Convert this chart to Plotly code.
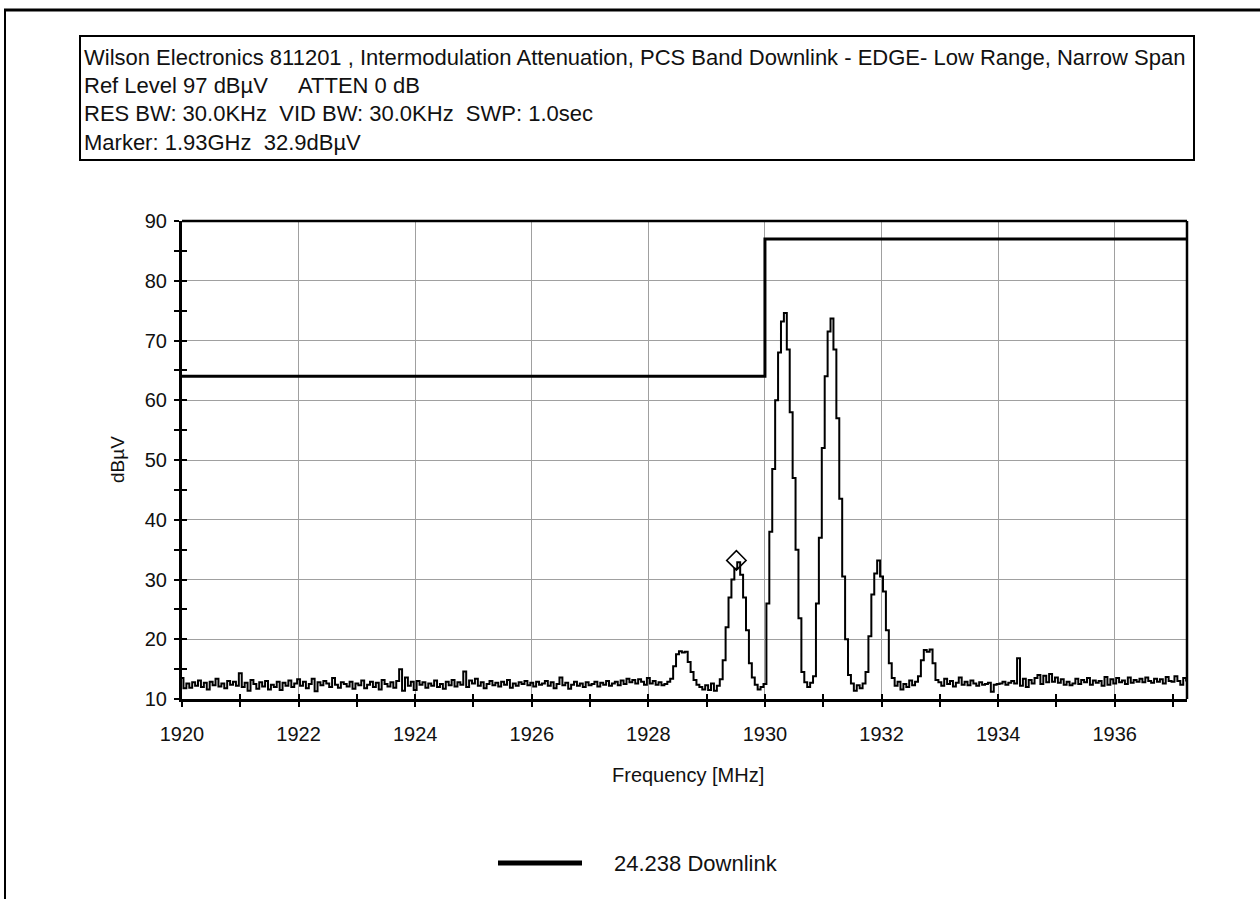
import plotly.graph_objects as go

# ---------------- data ----------------
FREQ_START = 1920.0      # MHz, first sweep point
FREQ_STEP = 0.05         # MHz between sweep points

level_dbuv = [
    # 1920
    13.5, 11.8, 12.6, 11.9, 12.8, 12.2, 13.1, 12.0, 12.7, 11.6, 12.9, 12.3, 13.4, 12.1, 12.6, 11.8, 13.0, 12.4, 12.9, 12.2,
    # 1921
    14.3, 12.0, 12.7, 11.4, 13.2, 12.5, 11.7, 12.8, 12.1, 13.0, 11.6, 12.4, 12.0, 12.9, 11.5, 12.7, 12.2, 13.1, 12.0, 12.6,
    # 1922
    13.3, 12.2, 12.9, 11.8, 12.5, 13.4, 11.3, 12.8, 12.3, 13.0, 12.6, 12.0, 13.5, 12.4, 11.9, 12.8, 12.5, 12.1, 12.9, 11.7,
    # 1923
    12.6, 12.3, 13.1, 11.8, 12.4, 12.9, 12.0, 12.7, 11.6, 13.2, 12.5, 12.1, 12.8, 11.9, 13.0, 15.0, 11.4, 13.6, 12.2, 12.9,
    # 1924
    11.5, 13.0, 12.4, 12.8, 11.9, 12.6, 12.2, 13.1, 12.0, 12.5, 11.7, 12.9, 12.3, 13.2, 12.1, 12.8, 12.4, 14.6, 12.0, 13.1,
    # 1925
    12.6, 13.4, 12.2, 12.8, 11.8, 12.5, 13.0, 12.3, 12.7, 12.1, 12.9, 12.4, 13.2, 11.9, 12.6, 12.2, 12.8, 12.5, 13.0, 12.3,
    # 1926
    12.7, 12.1, 12.9, 12.4, 12.6, 13.0, 12.2, 12.8, 11.8, 12.5, 13.6, 12.3, 12.7, 11.7, 12.4, 12.9, 12.2, 12.6, 12.0, 12.8,
    # 1927
    12.3, 12.5, 12.9, 12.1, 12.7, 12.4, 13.0, 12.2, 12.6, 12.9, 12.3, 13.1, 12.5, 13.4, 12.8, 13.2, 12.6, 13.3, 12.9, 12.4,
    # 1928
    13.5, 12.6, 13.0, 12.4, 12.8, 12.3, 12.5, 12.9, 13.4, 15.5, 17.5, 18.0, 17.8, 17.9, 16.2, 14.5, 13.2, 12.4, 12.0, 11.6,
    # 1929
    12.3, 11.5, 12.6, 11.4, 12.2, 13.3, 16.5, 22.0, 27.0, 30.0, 31.8, 32.9, 30.8, 27.0, 21.5, 16.0, 13.6, 12.4, 11.6, 12.0,
    # 1930
    12.5, 26.0, 38.0, 48.5, 60.0, 68.0, 73.2, 74.6, 68.5, 58.0, 47.0, 35.0, 23.5, 14.5, 12.8, 12.0, 12.7, 13.8, 26.0, 37.0,
    # 1931
    52.0, 64.0, 71.5, 73.7, 68.5, 57.0, 43.5, 30.5, 20.0, 14.0, 12.6, 11.4, 12.3, 11.8, 12.6, 14.5, 20.5, 27.5, 31.0, 33.2,
    # 1932
    30.5, 28.0, 21.5, 16.0, 13.5, 12.2, 12.9, 11.6, 12.5, 12.0, 13.1, 12.3, 12.9, 13.8, 16.5, 18.2, 17.9, 18.3, 16.0, 13.2,
    # 1933
    12.8, 12.2, 13.4, 12.5, 13.0, 12.1, 12.7, 13.6, 12.4, 12.9, 12.3, 13.1, 12.6, 12.2, 12.8, 12.4, 12.5, 12.7, 11.2, 12.4,
    # 1934
    12.5, 12.6, 12.9, 12.4, 12.7, 13.0, 12.6, 16.8, 12.2, 13.4, 12.0, 13.2, 12.6, 13.5, 14.0, 12.5, 13.9, 12.8, 14.2, 12.9,
    # 1935
    13.6, 12.7, 13.3, 12.4, 12.9, 12.3, 12.6, 13.4, 12.5, 13.2, 12.8, 13.5, 12.4, 13.1, 12.7, 13.0, 12.2, 13.7, 12.4, 13.3,
    # 1936
    12.6, 13.5, 12.8, 13.1, 12.5, 13.6, 12.7, 13.2, 12.9, 13.4, 12.8, 13.6, 13.0, 12.7, 13.4, 12.9, 13.3, 12.6, 13.7, 13.0,
    # 1937
    12.9, 13.8, 13.0, 12.4, 13.5, 13.1,
]
freq_mhz = [round(FREQ_START + i * FREQ_STEP, 3) for i in range(len(level_dbuv))]

limit_freq = [1920.0, 1930.0, 1930.0, 1937.3]
limit_level = [64, 64, 87, 87]

marker_freq = [1929.51]
marker_level = [33.2]

x_range = [1920, 1937.24]
y_range = [10, 90]

header_lines = [
    "Wilson Electronics 811201 , Intermodulation Attenuation, PCS Band Downlink - EDGE- Low Range, Narrow Span",
    "Ref Level 97 dBµV",
    "RES BW: 30.0KHz&#160;&#160;VID BW: 30.0KHz&#160;&#160;SWP: 1.0sec",
    "Marker: 1.93GHz&#160;&#160;32.9dBµV",
]
header_extra = "ATTEN 0 dB"
legend_label = "24.238 Downlink"
x_title = "Frequency [MHz]"
y_title = "dBµV"

# ---------------- layout geometry (pixels) ----------------
W, H = 1260, 899
PL, PR, PT, PB = 182, 1187, 221, 699


def px(x):
    return (x - PL) / (PR - PL)


def py(y):
    return (PB - y) / (PB - PT)


FONT = "Arial, 'Liberation Sans', sans-serif"

fig = go.Figure()

fig.add_trace(go.Scatter(
    x=limit_freq, y=limit_level, mode="lines",
    line=dict(color="black", width=3), showlegend=False, hoverinfo="skip",
))
fig.add_trace(go.Scatter(
    x=freq_mhz, y=level_dbuv, mode="lines", name=legend_label,
    line=dict(color="black", width=2, shape="hvh"), showlegend=False,
))
fig.add_trace(go.Scatter(
    x=marker_freq, y=marker_level, mode="markers",
    marker=dict(symbol="diamond-open", size=15, color="black", line=dict(width=1.5, color="black")),
    showlegend=False,
))
# dummy trace for overlay axes (inside tick marks)
fig.add_trace(go.Scatter(x=[None], y=[None], xaxis="x2", yaxis="y2", showlegend=False, hoverinfo="skip"))

tickfont = dict(family=FONT, size=20, color="#111")
grid = "#a0a0a0"

fig.update_layout(
    width=W, height=H,
    margin=dict(l=PL, r=W - PR, t=PT, b=H - PB, pad=0),
    paper_bgcolor="white", plot_bgcolor="white",
    showlegend=False,
    xaxis=dict(
        range=x_range, tick0=1920, dtick=2, ticks="outside", ticklen=5, tickwidth=2, tickcolor="black",
        minor=dict(dtick=1, tick0=1920, ticks="outside", ticklen=5, tickwidth=2, tickcolor="black", showgrid=False),
        showgrid=True, gridcolor=grid, gridwidth=1, zeroline=False,
        showline=True, linecolor="black", linewidth=3,
        tickfont=tickfont, ticklabelstandoff=10,
    ),
    yaxis=dict(
        range=y_range, tick0=10, dtick=10, ticks="outside", ticklen=5, tickwidth=2, tickcolor="black",
        minor=dict(dtick=5, tick0=10, ticks="outside", ticklen=5, tickwidth=2, tickcolor="black", showgrid=False),
        showgrid=True, gridcolor=grid, gridwidth=1, zeroline=False,
        showline=True, linecolor="black", linewidth=3,
        tickfont=tickfont, ticklabelstandoff=3,
    ),
    xaxis2=dict(
        range=x_range, overlaying="x", anchor="y", side="bottom", tick0=1920, dtick=1,
        ticks="inside", ticklen=5, tickwidth=2, tickcolor="black",
        showticklabels=False, showgrid=False, zeroline=False, showline=False,
    ),
    yaxis2=dict(
        range=y_range, overlaying="y", anchor="x", side="left", tick0=10, dtick=5,
        ticks="inside", ticklen=5, tickwidth=2, tickcolor="black",
        showticklabels=False, showgrid=False, zeroline=False, showline=False,
    ),
)

shapes = []
# plot frame top & right
shapes.append(dict(type="line", xref="paper", yref="paper", x0=0, x1=1, y0=1, y1=1,
                   line=dict(color="black", width=2.5)))
shapes.append(dict(type="line", xref="paper", yref="paper", x0=1, x1=1, y0=0, y1=1,
                   line=dict(color="black", width=2.5)))
# outer page frame
shapes.append(dict(type="line", xref="paper", yref="paper", x0=px(4), x1=px(1262), y0=py(10), y1=py(10),
                   line=dict(color="black", width=3)))
shapes.append(dict(type="line", xref="paper", yref="paper", x0=px(5), x1=px(5), y0=py(9), y1=py(905),
                   line=dict(color="black", width=2)))
# header box
shapes.append(dict(type="rect", xref="paper", yref="paper", x0=px(80), x1=px(1194), y0=py(36), y1=py(160),
                   line=dict(color="black", width=2), fillcolor="rgba(0,0,0,0)"))
# legend swatch
shapes.append(dict(type="line", xref="paper", yref="paper", x0=px(498), x1=px(582), y0=py(863), y1=py(863),
                   line=dict(color="black", width=5)))
fig.update_layout(shapes=shapes)

annots = []
hfont = dict(family=FONT, size=22, color="#111")
header_y = [57, 86, 114, 142]
for txt, yy in zip(header_lines, header_y):
    annots.append(dict(text=txt, xref="paper", yref="paper", x=px(82), y=py(yy),
                       xanchor="left", yanchor="middle", showarrow=False, font=hfont))
annots.append(dict(text=header_extra, xref="paper", yref="paper", x=px(296), y=py(header_y[1]),
                   xanchor="left", yanchor="middle", showarrow=False, font=hfont))
annots.append(dict(text=x_title, xref="paper", yref="paper", x=px(688), y=py(775),
                   xanchor="center", yanchor="middle", showarrow=False,
                   font=dict(family=FONT, size=20, color="#111")))
annots.append(dict(text=y_title, xref="paper", yref="paper", x=px(117), y=py(460),
                   xanchor="center", yanchor="middle", showarrow=False, textangle=-90,
                   font=dict(family=FONT, size=19, color="#111")))
annots.append(dict(text=legend_label, xref="paper", yref="paper", x=px(612), y=py(863),
                   xanchor="left", yanchor="middle", showarrow=False,
                   font=dict(family=FONT, size=22, color="#111")))
fig.update_layout(annotations=annots)

fig.write_html("out.html", config={"displayModeBar": False},
               post_script="document.body.style.margin='0px';")
